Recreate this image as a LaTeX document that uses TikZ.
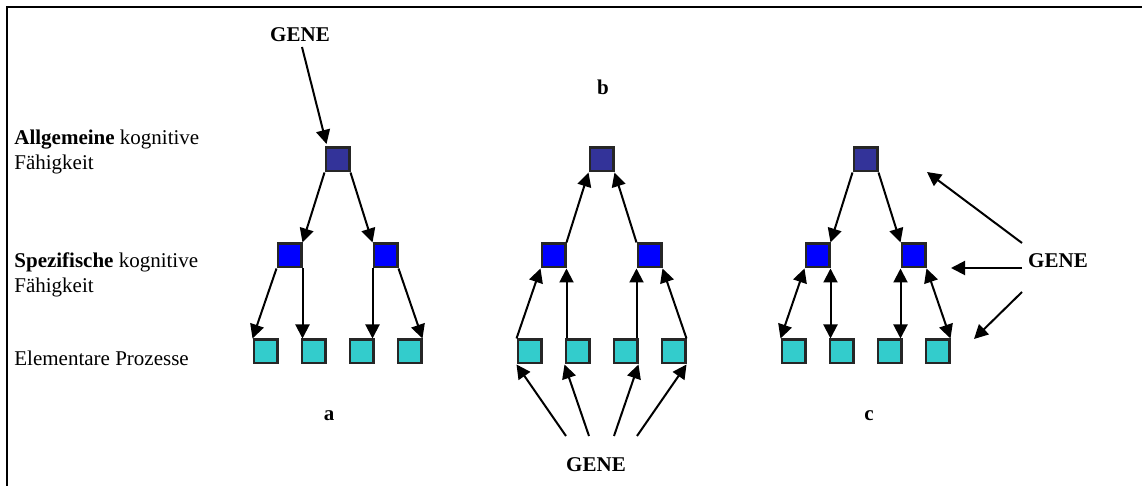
\documentclass[tikz,border=0pt]{standalone}
\usepackage{fontspec}
\setmainfont{Liberation Serif}
\usetikzlibrary{arrows.meta}
\definecolor{topc}{HTML}{333399}
\definecolor{midc}{HTML}{0000FF}
\definecolor{botc}{HTML}{33CCCC}
\begin{document}
\begin{tikzpicture}[x=0.5pt,y=-0.5pt,
  font=\fontsize{10.5}{12.5}\selectfont,
  sq/.style={draw=black!85,line width=1.2pt,minimum size=11.8pt,inner sep=0pt},
  topsq/.style={sq,fill=topc},
  midsq/.style={sq,fill=midc},
  botsq/.style={sq,fill=botc},
  arr/.style={line width=1pt,-{Triangle[length=7pt,width=7pt]}},
  darr/.style={line width=1pt,{Triangle[length=7pt,width=7pt]}-{Triangle[length=7pt,width=7pt]}},
  lbl/.style={anchor=base west,inner sep=0pt},
  ctr/.style={anchor=base,inner sep=0pt,font=\fontsize{10.5}{12.5}\selectfont\bfseries}]
\useasboundingbox (0,0) rectangle (1142,486);
\draw[line width=1pt] (7,486) -- (7,7.5) -- (1142,7.5);
% left labels
\node[lbl] (l1a) at (14,145) {\textbf{Allgemeine} kognitive};
\node[lbl] (l1b) at (14,170) {Fähigkeit};
\node[lbl] (l2a) at (14,268) {\textbf{Spezifische} kognitive};
\node[lbl] (l2b) at (14,293) {Fähigkeit};
\node[lbl] (l3) at (14,366) {Elementare Prozesse};
% panel a
\node[topsq] (at) at (337.5,159.5) {};
\node[midsq] (am1) at (289.5,255.5) {};
\node[midsq] (am2) at (385.5,255.5) {};
\node[botsq] (ab1) at (265.5,351.5) {};
\node[botsq] (ab2) at (313.5,351.5) {};
\node[botsq] (ab3) at (361.5,351.5) {};
\node[botsq] (ab4) at (409.5,351.5) {};
\node[ctr] (agene) at (300,42) {GENE};
\node[ctr] (alab) at (329,421) {a};
\coordinate (ags) at (302,47);
\coordinate (age) at (326.5,144);
\draw[arr] (ags) -- (age);
\draw[arr] (at.south west) -- (am1.north east);
\draw[arr] (at.south east) -- (am2.north west);
\draw[arr] (am1.south west) -- (ab1.north west);
\draw[arr] (am1.south east) -- (am1.south east |- ab2.north);
\draw[arr] (am2.south west) -- (am2.south west |- ab3.north);
\draw[arr] (am2.south east) -- (ab4.north east);
% panel b
\node[topsq] (bt) at (601.5,159.5) {};
\node[midsq] (bm1) at (553.5,255.5) {};
\node[midsq] (bm2) at (649.5,255.5) {};
\node[botsq] (bb1) at (529.5,351.5) {};
\node[botsq] (bb2) at (577.5,351.5) {};
\node[botsq] (bb3) at (625.5,351.5) {};
\node[botsq] (bb4) at (673.5,351.5) {};
\node[ctr] (blab) at (603,95) {b};
\node[ctr] (bgene) at (596,472) {GENE};
\draw[arr] (bm1.north east) -- (bt.south west);
\draw[arr] (bm2.north west) -- (bt.south east);
\draw[arr] (bb1.north west) -- (bm1.south west);
\draw[arr] (bm1.south east |- bb2.north) -- (bm1.south east);
\draw[arr] (bm2.south west |- bb3.north) -- (bm2.south west);
\draw[arr] (bb4.north east) -- (bm2.south east);
\coordinate (bg1) at (566,436);
\coordinate (bg2) at (589,436);
\coordinate (bg3) at (614,436);
\coordinate (bg4) at (637,436);
\draw[arr] (bg1) -- (bb1.south west);
\draw[arr] (bg2) -- (bb2.south west);
\draw[arr] (bg3) -- (bb3.south east);
\draw[arr] (bg4) -- (bb4.south east);
% panel c
\node[topsq] (ct) at (865.5,159.5) {};
\node[midsq] (cm1) at (817.5,255.5) {};
\node[midsq] (cm2) at (913.5,255.5) {};
\node[botsq] (cb1) at (793.5,351.5) {};
\node[botsq] (cb2) at (841.5,351.5) {};
\node[botsq] (cb3) at (889.5,351.5) {};
\node[botsq] (cb4) at (937.5,351.5) {};
\node[ctr] (clab) at (869,421) {c};
\node[ctr] (cgene) at (1058,268) {GENE};
\draw[arr] (ct.south west) -- (cm1.north east);
\draw[arr] (ct.south east) -- (cm2.north west);
\draw[darr] (cm1.south west) -- (cb1.north west);
\draw[darr] (cm1.south east) -- (cm1.south east |- cb2.north);
\draw[darr] (cm2.south west) -- (cm2.south west |- cb3.north);
\draw[darr] (cm2.south east) -- (cb4.north east);
\coordinate (cg1) at (1022,243);
\coordinate (cg2) at (1022,268);
\coordinate (cg3) at (1022,292);
\coordinate (ce1) at (927,172);
\coordinate (ce2) at (951,268);
\coordinate (ce3) at (974,339);
\draw[arr] (cg1) -- (ce1);
\draw[arr] (cg2) -- (ce2);
\draw[arr] (cg3) -- (ce3);
\end{tikzpicture}
\end{document}
